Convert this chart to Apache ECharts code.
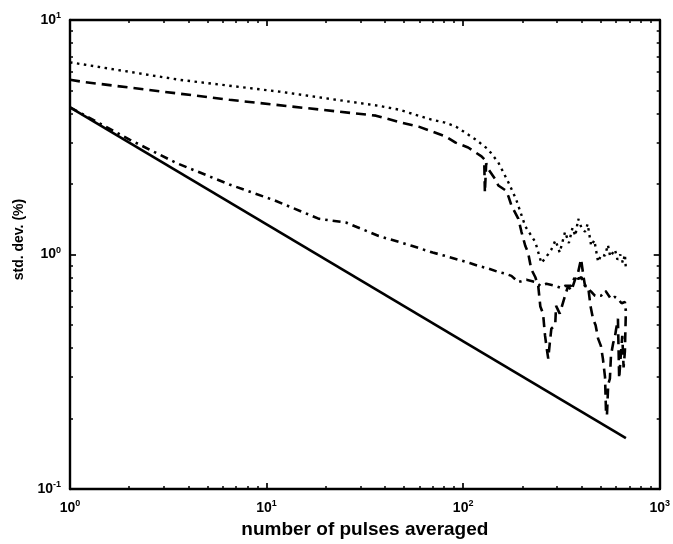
<!DOCTYPE html>
<html>
<head>
<meta charset="utf-8">
<script src="https://cdn.jsdelivr.net/npm/echarts@6/dist/echarts.min.js"></script>
<style>
  html, body { margin: 0; padding: 0; background: #fff; }
  #chart { width: 673px; height: 544px; }
</style>
</head>
<body>
<div id="chart"></div>
<script>
// Standard deviation (%) versus number of pulses averaged, four curves.

// Ideal 1/sqrt(N) reference line (straight on log-log axes)
const idealN   = [1, 673];
const idealStd = [4.24, 0.165];

// Dash-dot curve
const dashDotN   = [1, 1.12, 2.01, 3.5, 6.47, 11, 18.5, 25.3, 37.2, 54.7, 70, 81.4, 95, 108, 120, 135, 151, 163, 176, 191, 210, 233, 247, 265, 294, 315, 330, 354, 372, 385, 400, 417, 448, 469, 502, 530, 565, 590, 613, 640, 665, 673];
const dashDotStd = [4.24, 4.03, 3.09, 2.45, 1.99, 1.7, 1.42, 1.37, 1.20, 1.09, 1.02, 0.986, 0.95, 0.92, 0.894, 0.87, 0.843, 0.83, 0.811, 0.764, 0.78, 0.764, 0.735, 0.75, 0.735, 0.72, 0.735, 0.735, 0.811, 0.787, 0.80, 0.735, 0.695, 0.667, 0.667, 0.70, 0.647, 0.66, 0.647, 0.62, 0.628, 0.57];

// Dashed curve
const dashedN   = [1, 1.16, 6.47, 36, 48.7, 59.4, 69.2, 81.4, 91.5, 106, 124, 128, 129, 131, 134.5, 146, 151, 164, 170, 176, 191, 198, 207, 214, 222, 233, 241, 247, 255, 261, 266, 271, 276, 281, 294, 297, 310, 330, 342, 355, 372, 385, 398, 410, 417, 432, 445, 458, 472, 486, 502, 514, 527, 533, 539, 547, 558, 565, 580, 590, 600, 613, 622, 632, 645, 655, 665, 673];
const dashedStd = [5.56, 5.45, 4.57, 3.91, 3.65, 3.51, 3.35, 3.19, 3.0, 2.86, 2.62, 2.55, 1.84, 2.45, 2.31, 2.09, 1.97, 1.88, 1.77, 1.62, 1.42, 1.25, 1.09, 1.02, 0.867, 0.80, 0.735, 0.60, 0.56, 0.451, 0.40, 0.36, 0.42, 0.483, 0.50, 0.604, 0.56, 0.667, 0.735, 0.70, 0.787, 0.843, 0.957, 0.80, 0.735, 0.735, 0.60, 0.532, 0.50, 0.438, 0.408, 0.36, 0.30, 0.214, 0.206, 0.28, 0.296, 0.371, 0.42, 0.438, 0.48, 0.532, 0.296, 0.36, 0.45, 0.33, 0.386, 0.58];

// Dotted curve
const dottedN   = [1, 1.12, 3.6, 11.6, 37, 47, 69, 81, 92, 116, 134, 151, 170, 186, 207, 233, 250, 270, 281, 295, 310, 330, 345, 360, 372, 385, 400, 417, 430, 448, 465, 486, 505, 527, 545, 560, 592, 610, 630, 650, 665, 673];
const dottedStd = [6.6, 6.5, 5.56, 4.95, 4.31, 4.15, 3.76, 3.65, 3.51, 3.09, 2.81, 2.47, 2.03, 1.72, 1.32, 1.13, 0.92, 1.0, 1.05, 1.15, 1.02, 1.25, 1.12, 1.3, 1.2, 1.42, 1.3, 1.25, 1.35, 1.09, 1.15, 0.93, 1.0, 0.99, 1.1, 0.98, 1.05, 0.95, 1.0, 0.92, 1.0, 0.87];

// Axis ticks
const xMajor = [1, 10, 100, 1000];
const yMajor = [0.1, 1, 10];
const xMinor = [2, 3, 4, 5, 6, 7, 8, 9, 20, 30, 40, 50, 60, 70, 80, 90, 200, 300, 400, 500, 600, 700, 800, 900];
const yMinor = [0.2, 0.3, 0.4, 0.5, 0.6, 0.7, 0.8, 0.9, 2, 3, 4, 5, 6, 7, 8, 9];

const FONT = 'Liberation Sans';
const pairs = (xs, ys) => xs.map((x, i) => [x, ys[i]]);

const powLabel = v => {
  const e = Math.round(Math.log10(v));
  return '{b|10}{e|' + e + '}';
};
const labelRich = {
  b: { fontFamily: FONT, fontWeight: 'bold', fontSize: 14, color: '#000', lineHeight: 18 },
  e: { fontFamily: FONT, fontWeight: 'bold', fontSize: 9, color: '#000', lineHeight: 10, verticalAlign: 'top' }
};

function makeX(position, minor, withLabels) {
  return {
    type: 'log', logBase: 10, min: 1, max: 1000, position: position,
    axisLine: { show: !minor, onZero: false, lineStyle: { color: '#000', width: 2.4 } },
    axisTick: minor
      ? { show: true, inside: true, length: 3, customValues: xMinor, lineStyle: { color: '#000', width: 1.5 } }
      : { show: true, inside: true, length: 6, customValues: xMajor, lineStyle: { color: '#000', width: 1.7 } },
    axisLabel: withLabels
      ? { show: true, margin: 10, customValues: xMajor, formatter: powLabel, rich: labelRich }
      : { show: false },
    splitLine: { show: false }, minorTick: { show: false }
  };
}
function makeY(position, minor, withLabels) {
  return {
    type: 'log', logBase: 10, min: 0.1, max: 10, position: position,
    axisLine: { show: !minor, onZero: false, lineStyle: { color: '#000', width: 2.4 } },
    axisTick: minor
      ? { show: true, inside: true, length: 3, customValues: yMinor, lineStyle: { color: '#000', width: 1.5 } }
      : { show: true, inside: true, length: 6, customValues: yMajor, lineStyle: { color: '#000', width: 1.7 } },
    axisLabel: withLabels
      ? { show: true, margin: 9, customValues: yMajor, formatter: powLabel, rich: labelRich }
      : { show: false },
    splitLine: { show: false }, minorTick: { show: false }
  };
}

const xAxes = [makeX('bottom', false, true), makeX('bottom', true, false), makeX('top', false, false), makeX('top', true, false)];
const yAxes = [makeY('left', false, true), makeY('left', true, false), makeY('right', false, false), makeY('right', true, false)];

Object.assign(xAxes[0], {
  name: 'number of pulses averaged', nameLocation: 'middle', nameGap: 23,
  nameTextStyle: { fontFamily: FONT, fontWeight: 'bold', fontSize: 19, color: '#000' }
});
Object.assign(yAxes[0], {
  name: 'std. dev. (%)', nameLocation: 'middle', nameGap: 42,
  nameTextStyle: { fontFamily: FONT, fontWeight: 'bold', fontSize: 14, color: '#000', padding: [0, 0, 0, 30] }
});

const lineSeries = (data, type, width) => ({
  type: 'line', xAxisIndex: 0, yAxisIndex: 0, data: data,
  symbol: 'none', smooth: false, silent: true,
  lineStyle: { color: '#000', width: width, type: type, cap: 'butt' }
});

const chart = echarts.init(document.getElementById('chart'), null, { renderer: 'canvas' });
chart.setOption({
  animation: false,
  backgroundColor: '#fff',
  grid: { left: 70, right: 11, top: 20, bottom: 53, containLabel: false },
  xAxis: xAxes,
  yAxis: yAxes,
  series: [
    lineSeries(pairs(idealN, idealStd), 'solid', 2.6),
    lineSeries(pairs(dashDotN, dashDotStd), [8, 5, 2.5, 5], 2.6),
    lineSeries(pairs(dashedN, dashedStd), [10, 6], 2.6),
    lineSeries(pairs(dottedN, dottedStd), [2.5, 4.5], 2.4)
  ]
});
</script>
</body>
</html>
